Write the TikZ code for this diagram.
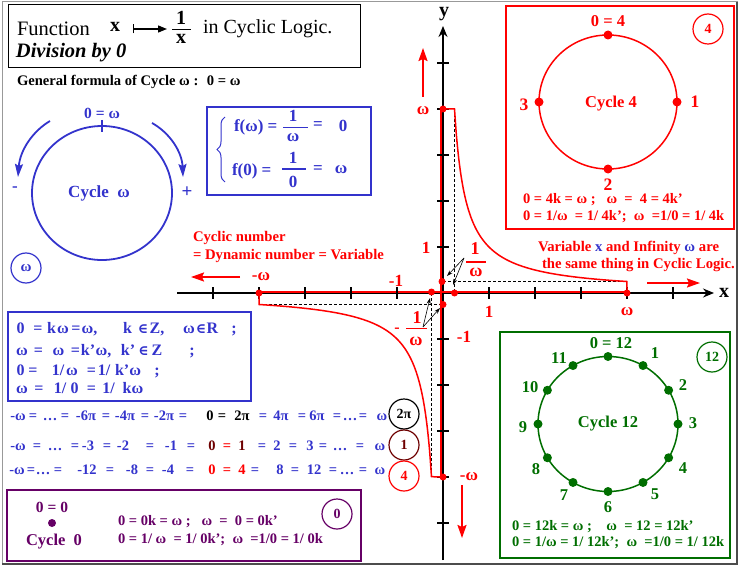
\documentclass[tikz,border=0pt]{standalone}
\usepackage{fontspec}
\setmainfont{Liberation Serif}
\newfontfamily\dvserif{DejaVu Serif}
\usetikzlibrary{arrows.meta,decorations.pathreplacing}
\definecolor{cblue}{RGB}{51,51,204}
\definecolor{cred}{RGB}{255,0,0}
\definecolor{cgreen}{RGB}{0,110,0}
\definecolor{cpurple}{RGB}{102,0,102}
\definecolor{cbrown}{RGB}{110,0,0}
\newcommand\fsz[1]{\fontsize{#1pt}{#1pt}\selectfont}
\newcommand\inn{{\dvserif\fsz{14}∈}}
\tikzset{
  every node/.style={inner sep=0pt, outer sep=0pt},
  reddot/.style={circle, fill=cred, minimum size=7pt},
  dashln/.style={black, line width=0.7pt, dash pattern=on 3pt off 2pt},
  axisln/.style={black, line width=1.5pt},
  redarrow/.style={cred, line width=1.8pt, -{Stealth[length=13pt,width=9pt,inset=2pt]}},
  ptr/.style={black, line width=0.6pt, -{Stealth[length=6pt,width=4pt]}},
  lblred/.style={font=\fsz{17}\bfseries, text=cred},
  circ/.style={circle, line width=1.2pt, minimum size=30pt},
  tok/.style={anchor=base},
}
\begin{document}
\begin{tikzpicture}[x=1pt,y=-1pt]
\useasboundingbox (0,0) rectangle (741,567);
% outer frame
\draw[black!40, line width=1pt] (2,2) rectangle (737,564);
\draw[black!70, line width=1.2pt] (737,2) -- (737,564) -- (2,564);

% ---------- title box
\draw[black, line width=1pt] (8,5) rectangle (360,68);
\node[font=\fsz{20.5}, anchor=west] (tfun) at (17,29) {Function};
\node[font=\fsz{20}\bfseries] (tvx) at (115,27) {x};
\coordinate (ta1) at (133,29);
\coordinate (ta2) at (167,29);
\draw[line width=1.3pt, {Bar[width=9pt]}-{Triangle[length=9pt,width=7pt]}] (ta1) -- (ta2);
\node[font=\fsz{20}\bfseries] (tnum) at (181,18) {1};
\node[font=\fsz{20}\bfseries] (tden) at (181,39) {x};
\draw[line width=1.3pt] (172,29.5) -- (191,29.5);
\node[font=\fsz{20}, anchor=west] (tin) at (203,29) {in Cyclic Logic.};
\node[font=\fsz{20.5}\bfseries\itshape, anchor=west] (tdiv) at (16,53) {Division by 0};
\node[font=\fsz{14.6}\bfseries, anchor=west] (tgen) at (17,82) {General formula of Cycle ω :~ 0 = ω};

% ---------- cycle omega
\draw[cblue, line width=1.8pt] (102,193) ellipse [x radius=70pt, y radius=67pt];
\draw[cblue, line width=1.3pt] (102,120) -- (102,132);
\node[font=\fsz{15.5}\bfseries, text=cblue] (czw) at (102,113) {0 = ω};
\node[font=\fsz{17}\bfseries, text=cblue] (cyw) at (99,193) {Cycle~ ω};
\node[font=\fsz{17}\bfseries, text=cblue] (cmin) at (15,189) {-};
\node[font=\fsz{19}\bfseries, text=cblue] (cplus) at (187,192) {+};
\coordinate (awl1) at (50,121);
\coordinate (awl2) at (18,177);
\coordinate (awr1) at (152,123);
\coordinate (awr2) at (183,177);
\draw[cblue, line width=1.8pt, -{Stealth[length=13pt,width=8pt,inset=2pt]}] (awl1) .. controls (33,131) and (20,150) .. (awl2);
\draw[cblue, line width=1.8pt, -{Stealth[length=13pt,width=8pt,inset=2pt]}] (awr1) .. controls (170,133) and (182,152) .. (awr2);
\node[circ, draw=cblue, font=\fsz{15}\bfseries, text=cblue] (cw) at (26,268) {ω};

% ---------- f box
\draw[cblue, line width=1.2pt] (207,107) rectangle (371,195);
\draw[cblue, line width=1pt, decorate, decoration={brace, amplitude=8pt}] (225,182) -- (225,117);
\node[font=\fsz{17}\bfseries, text=cblue, anchor=west] (f1) at (234,127) {f(ω) =};
\node[font=\fsz{17}\bfseries, text=cblue] (f1n) at (293,116) {1};
\draw[cblue, line width=1.2pt] (283,127.5) -- (308,127.5);
\node[font=\fsz{17}\bfseries, text=cblue] (f1d) at (293,138) {ω};
\node[font=\fsz{17}\bfseries, text=cblue] (f1e) at (318,126) {=};
\node[font=\fsz{17}\bfseries, text=cblue] (f1r) at (343,126) {0};
\node[font=\fsz{17}\bfseries, text=cblue, anchor=west] (f2) at (232,171) {f(0) =};
\node[font=\fsz{17}\bfseries, text=cblue] (f2n) at (293,158) {1};
\draw[cblue, line width=1.2pt] (282,169) -- (306,169);
\node[font=\fsz{17}\bfseries, text=cblue] (f2d) at (293,182) {0};
\node[font=\fsz{17}\bfseries, text=cblue] (f2e) at (318,170) {=};
\node[font=\fsz{17}\bfseries, text=cblue] (f2r) at (341,170) {ω};

% ---------- blue 4-line box
\draw[cblue, line width=1.2pt] (8,312) rectangle (251,401);
\foreach \x/\t [count=\i] in {20.5/0,38/=,51.5/k,63/ω,76/=,89.5/{ω,},127.5/k,143/\inn,157/{Z,},189/ω,201/\inn,212.5/R,234/;}
  \node[tok, font=\fsz{16}\bfseries, text=cblue] (bl1-\i) at (\x,333.5) {\t};
\foreach \x/\t [count=\i] in {22/ω,38.5/=,58.5/ω,75.5/=,88/k’,103.5/{ω,},128/k’,143.5/\inn,157/Z,192/;}
  \node[tok, font=\fsz{16}\bfseries, text=cblue] (bl2-\i) at (\x,355.5) {\t};
\foreach \x/\t [count=\i] in {20.5/0,33/=,58/{1/},72/ω,91.5/=,104/{1/},128/k’ω,157/;}
  \node[tok, font=\fsz{16}\bfseries, text=cblue] (bl3-\i) at (\x,375.5) {\t};
\foreach \x/\t [count=\i] in {22/ω,39/=,60/{1/},74.5/0,91.5/=,108.5/{1/},133/kω}
  \node[tok, font=\fsz{16}\bfseries, text=cblue] (bl4-\i) at (\x,393.5) {\t};

% ---------- rows
\foreach \x/\t/\c [count=\i] in {18/-ω/cblue,33/=/cblue,50/…/cblue,65/=/cblue,86/-6π/cblue,106/=/cblue,125/-4π/cblue,145/=/cblue,164/-2π/cblue,183/=/cblue,210/0/black,222/=/black,242/2π/black,263/=/cblue,281/4π/cblue,302/=/cblue,317/6π/cblue,337/=/cblue,350/…/cblue,363/=/cblue,382/ω/cblue}
  \node[tok, font=\fsz{14.5}\bfseries, text=\c] (ra-\i) at (\x,420) {\t};
\foreach \x/\t/\c [count=\i] in {18/-ω/cblue,37/=/cblue,55/…/cblue,75/=/cblue,88/-3/cblue,107/=/cblue,123/-2/cblue,150/=/cblue,171/-1/cblue,191/=/cblue,212/0/cbrown,227/=/cred,242/1/cbrown,262/=/cblue,277/2/cblue,293/=/cblue,310/3/cblue,323/=/cblue,340/…/cblue,360/=/cblue,380/ω/cblue}
  \node[tok, font=\fsz{14.5}\bfseries, text=\c] (rb-\i) at (\x,450) {\t};
\foreach \x/\t/\c [count=\i] in {17/-ω/cblue,31/=/cblue,43/…/cblue,58/=/cblue,87/-12/cblue,110/=/cblue,132/-8/cblue,150/=/cblue,168/-4/cblue,190/=/cblue,212/0/cred,227/=/cred,242/4/cred,255/=/cblue,280/8/cblue,295/=/cblue,314/12/cblue,333/=/cblue,347/…/cblue,363/=/cblue,380/ω/cblue}
  \node[tok, font=\fsz{14.5}\bfseries, text=\c] (rc-\i) at (\x,474) {\t};
\node[circ, draw=black, font=\fsz{14}\bfseries, text=black] (c2pi) at (404,414) {2π};
\node[circ, draw=cbrown, font=\fsz{14}\bfseries, text=cbrown] (c1) at (404,445) {1};
\node[circ, draw=cred, font=\fsz{14}\bfseries, text=cred] (c4b) at (404,476) {4};

% ---------- cycle 0 box
\draw[cpurple, line width=1.2pt] (7,490) rectangle (361,561);
\node[font=\fsz{15.5}\bfseries, text=cpurple] (z00) at (52,507) {0 = 0};
\node[circle, fill=cpurple, minimum size=8pt] (zdot) at (52,523) {};
\node[font=\fsz{16.5}\bfseries, text=cpurple] (zcy) at (54,542) {Cycle~ 0};
\node[font=\fsz{14.5}\bfseries, text=cpurple, anchor=west] (zl1) at (118,522) {0 = 0k = ω ;~~ ω~ =~ 0 = 0k’};
\node[font=\fsz{14.5}\bfseries, text=cpurple, anchor=west] (zl2) at (118,540) {0 = 1/ ω~ = 1/ 0k’;~ ω~ =1/0 = 1/ 0k};
\node[circ, draw=cpurple, font=\fsz{14}\bfseries, text=cpurple] (c0) at (337,514) {0};

% ---------- cycle 4 box
\draw[cred, line width=1.2pt] (506,6) rectangle (734,229);
\draw[cred, line width=1.5pt] (608,102) ellipse [x radius=69pt, y radius=67pt];
\node[reddot, minimum size=9pt] (q0) at (608,35) {};
\node[reddot, minimum size=9pt] (q1) at (677,102) {};
\node[reddot, minimum size=9pt] (q2) at (608,169) {};
\node[reddot, minimum size=9pt] (q3) at (539,102) {};
\node[font=\fsz{16.5}\bfseries, text=cred] (q0l) at (608,21) {0 = 4};
\node[font=\fsz{17.5}\bfseries, text=cred] (q1l) at (695,102) {1};
\node[font=\fsz{17.5}\bfseries, text=cred] (q2l) at (608,185) {2};
\node[font=\fsz{17.5}\bfseries, text=cred] (q3l) at (524,105) {3};
\node[font=\fsz{16.5}\bfseries, text=cred] (q4c) at (611,104) {Cycle 4};
\node[circ, draw=cred, font=\fsz{14}\bfseries, text=cred] (c4) at (708,29) {4};
\node[font=\fsz{14.5}\bfseries, text=cred, anchor=west] (ql1) at (523,200) {0 = 4k = ω ;~~ ω~ =~ 4 = 4k’};
\node[font=\fsz{14.5}\bfseries, text=cred, anchor=west] (ql2) at (523,217) {0 = 1/ω~ = 1/ 4k’;~ ω~ =1/0 = 1/ 4k};

% ---------- cycle 12 box
\draw[cgreen, line width=1.2pt] (500,332) rectangle (730,558);
\draw[cgreen, line width=1.5pt] (608,424) ellipse [x radius=70pt, y radius=67.5pt];
\foreach \a [count=\i] in {0,30,...,330}
  \node[circle, fill=cgreen, minimum size=9pt] (g-\i) at ({608+70*sin(\a)},{424-67.5*cos(\a)}) {};
\foreach \x/\y/\t [count=\i] in {611/343/0 = 12,655/353/1,683/385/2,693/423/3,683/468/4,655/494/5,608/507/6,564/495/7,536/469/8,523/427/9,530/387/10,559/358/11}
  \node[font=\fsz{16.5}\bfseries, text=cgreen] (gl-\i) at (\x,\y) {\t};
\node[font=\fsz{16.5}\bfseries, text=cgreen] (g12c) at (608,424) {Cycle 12};
\node[circ, draw=cgreen, font=\fsz{14}\bfseries, text=cgreen] (c12) at (712,357) {12};
\node[font=\fsz{14.5}\bfseries, text=cgreen, anchor=west] (gl1) at (512,527) {0 = 12k = ω ;~~~ ω~ = 12 = 12k’};
\node[font=\fsz{14.5}\bfseries, text=cgreen, anchor=west] (gl2) at (512,543) {0 = 1/ω = 1/ 12k’;~ ω~ =1/0 = 1/ 12k};

% ---------- graph
\draw[dashln] (454.5,109) -- (454.5,293);
\draw[dashln] (443,281.5) -- (627,281.5);
\draw[dashln] (259,304.5) -- (443,304.5);
\draw[dashln] (431.5,293) -- (431.5,477);
\coordinate (xs) at (177,293);
\coordinate (xe) at (714,293);
\coordinate (ys) at (443,560);
\coordinate (ye) at (443,26);
\draw[axisln, -{Stealth[length=11pt,width=9pt]}] (xs) -- (xe);
\draw[axisln, -{Stealth[length=11pt,width=9pt]}] (ys) -- (ye);
\draw[cred, line width=2pt] (259,291.5) -- (627,291.5);
\draw[cred, line width=2pt] (440.5,109) -- (440.5,477);
\foreach \k in {-5,...,-1,1,2,...,5} {
  \draw[axisln] ({443+46*\k},287) -- ({443+46*\k},299);
  \draw[axisln] (437,{293-46*\k}) -- (449,{293-46*\k});
}
\draw[cred, line width=1.5pt] (440.5,109) -- (454.5,109) -- plot[domain=0.25:4, samples=90, smooth] ({443+46*\x},{293-46/\x}) -- (627,293);
\draw[cred, line width=1.5pt] (259,293) -- (259,304.5) -- plot[domain=-4:-0.25, samples=90, smooth] ({443+46*\x},{293-46/\x}) -- (440.5,477);
\node[reddot] (pmw) at (259,293) {};
\node[reddot] (pw) at (627,293) {};
\node[reddot] (pyw) at (443,109) {};
\node[reddot] (pymw) at (443,477) {};
\node[reddot] (py1w) at (442,281.5) {};
\node[reddot] (px1w) at (454.5,293) {};
\node[reddot] (pxm1w) at (431.5,292) {};
\node[reddot] (pym1w) at (443,304.5) {};
\node[font=\fsz{20}\bfseries] (xlab) at (724,293) {x};
\node[font=\fsz{20}\bfseries] (ylab) at (444,14) {y};
% axis labels
\node[lblred] (l1x) at (489,312) {1};
\node[lblred] (lm1x) at (396,281) {-1};
\node[lblred] (l1y) at (426,248) {1};
\node[lblred] (lm1y) at (464,337) {-1};
\node[lblred] (lmwx) at (261,277) {-ω};
\node[lblred] (lwx) at (627,312) {ω};
\node[lblred] (lwy) at (423,111) {ω};
\node[lblred] (lmwy) at (469,477) {-ω};
% 1/omega labels
\node[font=\fsz{18}\bfseries, text=cred] (fa1) at (475,249) {1};
\draw[cred, line width=1.3pt] (466,262) -- (486,262);
\node[font=\fsz{18}\bfseries, text=cred] (fa2) at (476,272) {ω};
\node[font=\fsz{16}\bfseries, text=cred] (fbm) at (397,330) {-};
\node[font=\fsz{18}\bfseries, text=cred] (fb1) at (417,318) {1};
\draw[cred, line width=1.3pt] (406,328.5) -- (427,328.5);
\node[font=\fsz{18}\bfseries, text=cred] (fb2) at (416,341) {ω};
\coordinate (pa) at (464,258);
\coordinate (pa1) at (447,276);
\coordinate (pa2) at (453,285);
\coordinate (pb) at (423,327);
\coordinate (pb1) at (430,298);
\coordinate (pb2) at (440,308);
\draw[ptr] (pa) -- (pa1);
\draw[ptr] (pa) -- (pa2);
\draw[ptr] (pb) -- (pb1);
\draw[ptr] (pb) -- (pb2);
% red arrows
\coordinate (ua1) at (423,97);
\coordinate (ua2) at (423,48);
\coordinate (da1) at (462,485);
\coordinate (da2) at (462,538);
\coordinate (la1) at (240,277);
\coordinate (la2) at (191,277);
\coordinate (ra1) at (647,283);
\coordinate (ra2) at (700,283);
\draw[redarrow] (ua1) -- (ua2);
\draw[redarrow] (da1) -- (da2);
\draw[redarrow] (la1) -- (la2);
\draw[redarrow] (ra1) -- (ra2);
% texts
\node[font=\fsz{14.7}\bfseries, text=cred, anchor=west] (cyc1) at (193,238) {Cyclic number};
\node[font=\fsz{14.7}\bfseries, text=cred, anchor=west] (cyc2) at (193,256) {= Dynamic number = Variable};
\node[font=\fsz{14.7}\bfseries, text=cred, anchor=west] (var1) at (538,248) {Variable \textcolor{cblue}{x} and Infinity \textcolor{cblue}{ω} are};
\node[font=\fsz{14.7}\bfseries, text=cred, anchor=west] (var2) at (542,265) {the same thing in Cyclic Logic.};
\end{tikzpicture}
\end{document}
